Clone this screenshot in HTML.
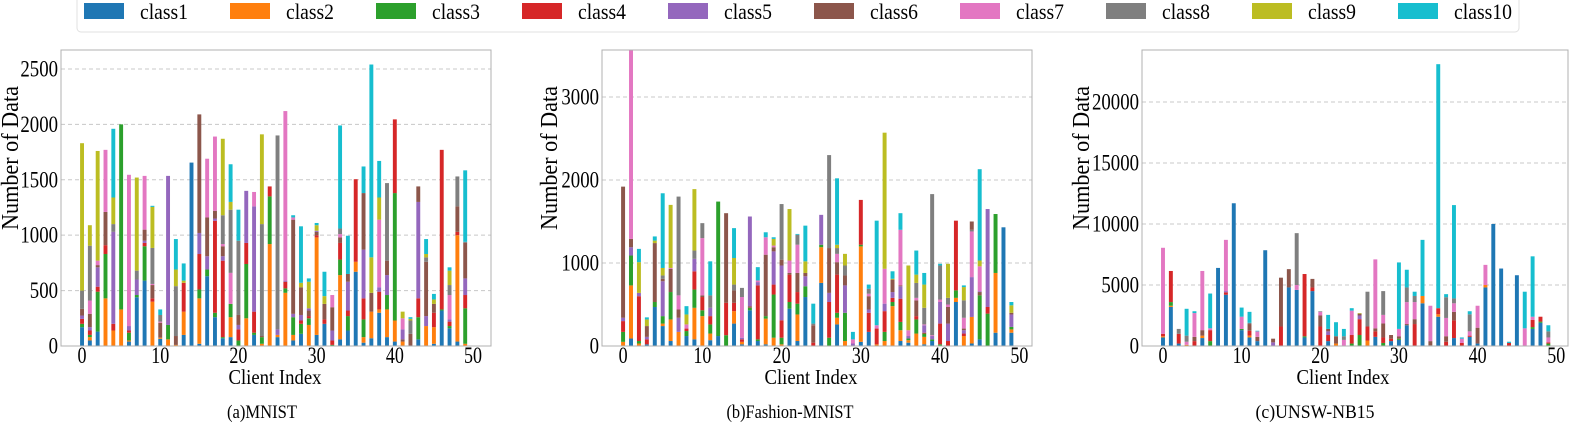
<!DOCTYPE html>
<html><head><meta charset="utf-8"><style>
html,body{margin:0;padding:0;background:#fff;}
svg{display:block;}
svg text{font-family:"Liberation Serif","Times New Roman",serif !important;}
</style></head><body>
<svg id="fig" width="1577" height="436" viewBox="0 0 1577 436" font-family="'Liberation Serif', serif">
<g id="legend"></g>
</svg>
<script>
const classNames=["class1","class2","class3","class4","class5","class6","class7","class8","class9","class10"];
const colors=["#1f77b4","#ff7f0e","#2ca02c","#d62728","#9467bd","#8c564b","#e377c2","#7f7f7f","#bcbd22","#17becf"];
// stacks per client: [classIndex, cumulativeTop] bottom to top
const mnistStacks=[
[[0,170],[2,200],[3,245],[4,275],[5,335],[7,500],[8,1830]],
[[0,50],[1,80],[2,100],[3,140],[4,170],[5,290],[6,410],[7,905],[8,1090]],
[[0,130],[2,490],[3,535],[4,710],[5,730],[6,770],[8,1760]],
[[1,430],[2,830],[3,910],[5,1210],[6,1770]],
[[1,140],[3,200],[4,1030],[7,1100],[8,1340],[9,1960]],
[[1,330],[2,2000]],
[[0,40],[1,50],[2,120],[3,140],[4,180],[6,1545]],
[[0,440],[2,460],[4,600],[7,680],[8,1520]],
[[0,590],[2,900],[3,930],[4,950],[5,1050],[6,1535]],
[[1,400],[3,430],[5,550],[6,560],[7,885],[8,1255],[9,1265]],
[[0,65],[1,75],[5,210],[6,220],[7,280],[9,330]],
[[1,60],[2,190],[4,1535]],
[[1,10],[5,90],[7,540],[8,690],[9,965]],
[[0,100],[1,310],[3,570],[8,590],[9,745]],
[[0,1655]],
[[0,20],[1,430],[2,510],[3,830],[4,1020],[5,2090]],
[[0,630],[2,690],[4,810],[5,1160],[6,1690]],
[[0,260],[2,300],[3,1130],[4,1150],[5,1220],[6,1890]],
[[0,70],[2,80],[3,770],[4,810],[5,900],[6,920],[7,1180],[8,1870]],
[[0,80],[1,260],[2,380],[6,660],[7,1230],[8,1300],[9,1640]],
[[2,50],[3,150],[4,190],[5,280],[7,950],[9,1230]],
[[1,250],[2,740],[3,930],[4,1400]],
[[0,100],[2,120],[3,310],[4,1260],[6,1390]],
[[1,20],[2,80],[5,90],[7,1100],[8,1910]],
[[1,920],[2,1350],[3,1440]],
[[0,80],[1,100],[4,150],[7,1900]],
[[1,480],[2,520],[3,580],[4,590],[6,2120]],
[[0,50],[1,100],[2,260],[4,290],[5,1140],[6,1160],[9,1180]],
[[0,110],[2,200],[3,230],[4,280],[5,530],[8,570],[9,1080]],
[[1,190],[2,250],[3,270],[5,320],[4,340],[8,580],[9,610]],
[[0,100],[1,980],[3,1000],[5,1030],[4,1040],[8,1090],[9,1110]],
[[0,200],[3,240],[5,380],[8,450],[9,670]],
[[2,10],[3,50],[4,140],[5,350],[6,460]],
[[0,60],[1,640],[2,780],[3,930],[5,980],[6,1010],[7,1060],[9,1990]],
[[0,140],[2,270],[3,320],[4,580],[5,650],[9,995]],
[[0,670],[1,760],[3,1505]],
[[0,30],[1,80],[2,240],[3,430],[4,870],[5,1380],[9,1620]],
[[0,70],[1,310],[5,480],[8,800],[9,2540]],
[[0,300],[1,330],[3,490],[4,530],[6,1140],[8,1340],[9,1670]],
[[0,80],[1,330],[2,460],[4,640],[5,770],[7,1470]],
[[0,40],[1,230],[2,1380],[3,2045]],
[[1,40],[5,60],[4,150],[6,250],[8,310]],
[[5,110],[7,230],[8,245],[9,260]],
[[0,60],[2,260],[3,430],[4,1300],[5,1440]],
[[1,180],[4,270],[5,760],[7,800],[8,830],[9,965]],
[[0,20],[1,170],[3,300],[5,380],[8,420],[9,470]],
[[0,320],[2,330],[3,1770]],
[[0,160],[2,180],[3,220],[4,240],[6,460],[7,550],[8,680],[9,710]],
[[0,40],[1,1000],[3,1030],[5,1260],[7,1530]],
[[1,20],[2,340],[3,460],[4,610],[5,930],[7,940],[9,1585]]
];
const fashionStacks=[
[[1,50],[2,170],[3,300],[4,340],[5,1920]],
[[0,90],[1,730],[2,1090],[4,1190],[5,1290],[6,3600]],
[[1,30],[2,60],[3,600],[4,640],[8,1010],[9,1170]],
[[0,20],[3,80],[4,110],[5,240],[8,320],[9,345]],
[[0,470],[2,530],[5,1240],[8,1270],[9,1320]],
[[0,240],[1,270],[2,360],[4,780],[5,810],[7,850],[8,940],[9,1840]],
[[0,60],[1,320],[2,650],[5,930],[6,940],[8,1700]],
[[1,170],[4,340],[5,440],[6,610],[7,1800]],
[[0,120],[2,180],[3,210],[6,260],[8,380],[9,480]],
[[0,80],[1,460],[2,680],[3,900],[4,1050],[7,1150],[8,1890]],
[[1,360],[2,430],[3,590],[5,610],[6,1300],[7,1480]],
[[0,70],[1,150],[2,260],[3,360],[4,460],[7,610],[9,1020]],
[[0,120],[2,1740]],
[[2,130],[3,520],[5,1600]],
[[0,270],[1,420],[3,520],[5,670],[7,740],[8,1060],[9,1420]],
[[0,20],[1,50],[3,80],[4,100],[6,590],[7,700]],
[[0,430],[2,460],[5,480],[4,1560]],
[[0,60],[2,80],[3,730],[4,770],[6,790],[9,950]],
[[0,20],[1,330],[2,360],[5,1100],[6,1310],[9,1370]],
[[1,100],[2,620],[3,740],[4,1140],[5,1190],[6,1210],[8,1290],[9,1310]],
[[1,20],[2,100],[3,310],[4,970],[5,1040],[7,1710]],
[[0,450],[2,530],[3,860],[5,880],[6,1030],[8,1650]],
[[0,60],[1,380],[2,510],[3,650],[5,880],[6,1220],[7,1340],[9,1350]],
[[0,590],[2,720],[4,840],[5,880],[8,1020],[9,1450]],
[[3,40],[5,250],[7,270],[9,510]],
[[0,760],[1,1190],[2,1220],[4,1580]],
[[2,100],[3,530],[4,640],[5,1180],[7,2300]],
[[0,260],[1,340],[2,400],[3,860],[5,1010],[6,1110],[7,1180],[8,1220],[9,2020]],
[[1,60],[2,400],[4,730],[5,850],[7,970],[8,1110]],
[[4,30],[6,80],[9,170]],
[[0,50],[1,1200],[2,1220],[3,1760]],
[[0,170],[3,400],[4,440],[5,600],[6,630],[7,690],[9,740]],
[[1,20],[3,210],[6,250],[9,1510]],
[[1,60],[2,170],[3,420],[4,510],[6,930],[8,2570]],
[[1,480],[2,530],[3,580],[4,650],[5,800],[8,810],[9,900]],
[[0,60],[1,190],[2,290],[3,570],[4,720],[5,730],[6,1400],[9,1600]],
[[0,40],[1,70],[2,90],[4,120],[6,190],[8,970]],
[[1,150],[2,320],[3,360],[5,550],[6,580],[7,760],[8,860],[9,1150]],
[[0,20],[1,110],[2,150],[3,160],[4,250],[6,260],[7,460],[8,740],[9,880]],
[[0,60],[2,80],[4,120],[6,130],[7,1830]],
[[2,20],[3,270],[4,530],[6,560],[7,970],[9,990]],
[[3,60],[4,270],[5,470],[6,500],[7,580],[8,990]],
[[0,530],[1,580],[2,670],[3,1510]],
[[1,120],[3,150],[4,190],[5,210],[6,340],[7,550],[8,710],[9,730]],
[[0,30],[1,350],[4,830],[6,1380],[7,1400],[5,1500]],
[[0,80],[2,610],[5,650],[4,660],[6,960],[8,1030],[9,2130]],
[[2,390],[3,470],[4,1650]],
[[0,160],[1,880],[2,1590]],
[[0,1430]],
[[0,160],[1,200],[2,230],[4,380],[5,400],[8,490],[9,530]]
];
const unswStacks=[
[[0,700],[1,800],[3,1000],[6,8050]],
[[0,3200],[1,3300],[2,3600],[3,6150]],
[[0,200],[3,1000],[7,1400]],
[[1,100],[6,350],[7,850],[9,3050]],
[[3,400],[5,750],[6,2700],[9,2850]],
[[0,650],[1,850],[5,1300],[6,6150]],
[[2,400],[3,1300],[6,1450],[9,4300]],
[[0,6400]],
[[0,4200],[3,4400],[4,4500],[6,8700]],
[[0,11700]],
[[0,1300],[2,1400],[6,2400],[9,3150]],
[[0,700],[1,850],[3,1250],[5,1800],[7,1900],[9,2800]],
[[0,400],[5,750],[6,1200],[9,1250]],
[[0,7850]],
[[4,300],[5,600]],
[[3,1600],[5,5600]],
[[0,4800],[5,6300]],
[[0,4600],[6,5000],[7,9250]],
[[0,700],[2,800],[3,5900]],
[[0,4500],[3,4800],[5,5500]],
[[3,1600],[5,2500],[6,2800],[7,2850]],
[[0,400],[3,900],[4,1200],[5,1400],[9,2550]],
[[1,200],[5,800],[9,1950]],
[[6,500],[7,800],[9,1400]],
[[2,200],[3,900],[6,2900],[9,3100]],
[[2,900],[3,2200],[4,2500],[5,2650],[8,2700]],
[[1,450],[3,1600],[7,4450]],
[[0,750],[3,1200],[5,1450],[6,7100]],
[[2,250],[3,700],[5,1850],[6,2550],[7,4500]],
[[0,400],[3,600],[5,900]],
[[0,500],[2,600],[5,800],[6,1400],[9,6850]],
[[0,1700],[5,1800],[6,3600],[7,4800],[9,6250]],
[[3,1800],[5,2200],[6,3600],[7,4100],[9,4450]],
[[0,3500],[1,4100],[9,8700]],
[[2,50],[5,400],[6,3300]],
[[0,2400],[1,2600],[3,3100],[9,23100]],
[[3,350],[5,800],[6,2300],[7,4000],[9,4250]],
[[0,650],[3,2100],[5,2800],[6,3500],[7,3900],[9,11550]],
[[3,250],[6,600],[9,700]],
[[0,750],[3,850],[6,1200],[7,2600],[9,2850]],
[[0,200],[5,1500],[6,3300]],
[[0,4800],[1,5000],[6,6650]],
[[0,10000]],
[[0,6350]],
[[3,250],[9,350]],
[[0,5800]],
[[6,1450],[9,4450]],
[[0,1400],[2,1550],[3,2150],[6,2400],[9,7350]],
[[0,1900],[2,2000],[3,2400]],
[[2,200],[3,300],[6,700],[7,1200],[9,1700]]
];
const xTicks=[0,10,20,30,40,50];
const mnistYTicks=[0,500,1000,1500,2000,2500];
const fashionYTicks=[0,1000,2000,3000];
const unswYTicks=[0,5000,10000,15000,20000];
const captions=["(a)MNIST","(b)Fashion-MNIST","(c)UNSW-NB15"];

const NS="http://www.w3.org/2000/svg";
const FONT="'Liberation Serif', 'Times New Roman', serif";
const fig=document.getElementById('fig');
function mk(tag,attrs,parent){const e=document.createElementNS(NS,tag);for(const k in attrs)e.setAttribute(k,attrs[k]);if(tag==='text')e.setAttribute('font-family',FONT);(parent||fig).appendChild(e);return e;}

const panels=[
 {name:'mnist',stacks:mnistStacks,yt:mnistYTicks,L:61,R:491,T:50,B:346,x0:-2.69,x1:52.3,ymax:2671,ylabX:18,xlabC:275,capC:262,capW:70,cap:captions[0]},
 {name:'fashion',stacks:fashionStacks,yt:fashionYTicks,L:602,R:1032,T:50,B:346,x0:-2.66,x1:51.6,ymax:3566,ylabX:557,xlabC:811,capC:790,capW:127,cap:captions[1]},
 {name:'unsw',stacks:unswStacks,yt:unswYTicks,L:1142,R:1568,T:50,B:346,x0:-2.67,x1:51.5,ymax:24262,ylabX:1089,xlabC:1343,capC:1315,capW:119,cap:captions[2]}
];
panels.forEach(p=>{
 const g=mk('g',{});
 
 
 const xs=v=>p.L+(v-p.x0)/(p.x1-p.x0)*(p.R-p.L);
 const ys=v=>p.B-Math.min(v,p.ymax)/p.ymax*(p.B-p.T);
 const cl='clip-'+p.name;
 const cp=mk('clipPath',{id:cl},g);mk('rect',{x:p.L,y:p.T,width:p.R-p.L,height:p.B-p.T},cp);
 p.yt.forEach(t=>{
  const ln=mk('line',{x1:p.L,x2:p.R,y1:ys(t),y2:ys(t),stroke:'#c8c8c8','stroke-width':1,'stroke-dasharray':'4,3'},g);
  
  
  const s=String(t);
  const tx=mk('text',{x:p.L-3,y:ys(t)+7.5,'text-anchor':'end','font-size':23,fill:'#000',textLength:9.4*s.length,lengthAdjust:'spacingAndGlyphs'},g);
  tx.textContent=s;
  
  
 });
 const bars=mk('g',{'clip-path':'url(#'+cl+')'},g);
 
 
 const bw=(xs(0.5)-xs(0));
 p.stacks.forEach((st,i)=>{
  let prev=0;
  st.forEach(([c,top])=>{
   const r=mk('rect',{x:xs(i)-bw/2,y:ys(top),width:bw,height:Math.max(0,ys(prev)-ys(top)),fill:colors[c]},bars);
   
   
   prev=top;
  });
 });
 const fr=mk('rect',{x:p.L,y:p.T,width:p.R-p.L,height:p.B-p.T,fill:'none',stroke:'#b0b0b0','stroke-width':1},g);
 
 
 xTicks.forEach(t=>{
  const s=String(t);
  const tx=mk('text',{x:xs(t),y:363,'text-anchor':'middle','font-size':23,fill:'#000',textLength:9*s.length,lengthAdjust:'spacingAndGlyphs'},g);
  tx.textContent=s;
  
  
 });
 const xl=mk('text',{x:p.xlabC,y:384,'text-anchor':'middle','font-size':21,fill:'#000',textLength:93,lengthAdjust:'spacingAndGlyphs'},g);
 xl.textContent='Client Index';
 
 
 const yl=mk('text',{x:0,y:0,'text-anchor':'middle','font-size':24,fill:'#000',textLength:144,lengthAdjust:'spacingAndGlyphs',transform:'translate('+p.ylabX+',158) rotate(-90)'},g);
 yl.textContent='Number of Data';
 
 
 const cp2=mk('text',{x:p.capC,y:418,'text-anchor':'middle','font-size':19,fill:'#000',textLength:p.capW,lengthAdjust:'spacingAndGlyphs'},g);
 cp2.textContent=p.cap;
 
 
});
const lg=document.getElementById('legend');
mk('rect',{x:77,y:-5,width:1442,height:37,rx:4,fill:'#fff',stroke:'#e0e0e0'},lg);
classNames.forEach((n,i)=>{
 const x=84+i*146;
 const e=mk('g',{},lg);
 
 
 mk('rect',{x:x,y:3,width:40,height:16,fill:colors[i]},e);
 const t=mk('text',{x:x+56,y:19,'font-size':22,fill:'#000',textLength:n.length===6?48:58,lengthAdjust:'spacingAndGlyphs'},e);
 t.textContent=n;
});
</script>
</body></html>
